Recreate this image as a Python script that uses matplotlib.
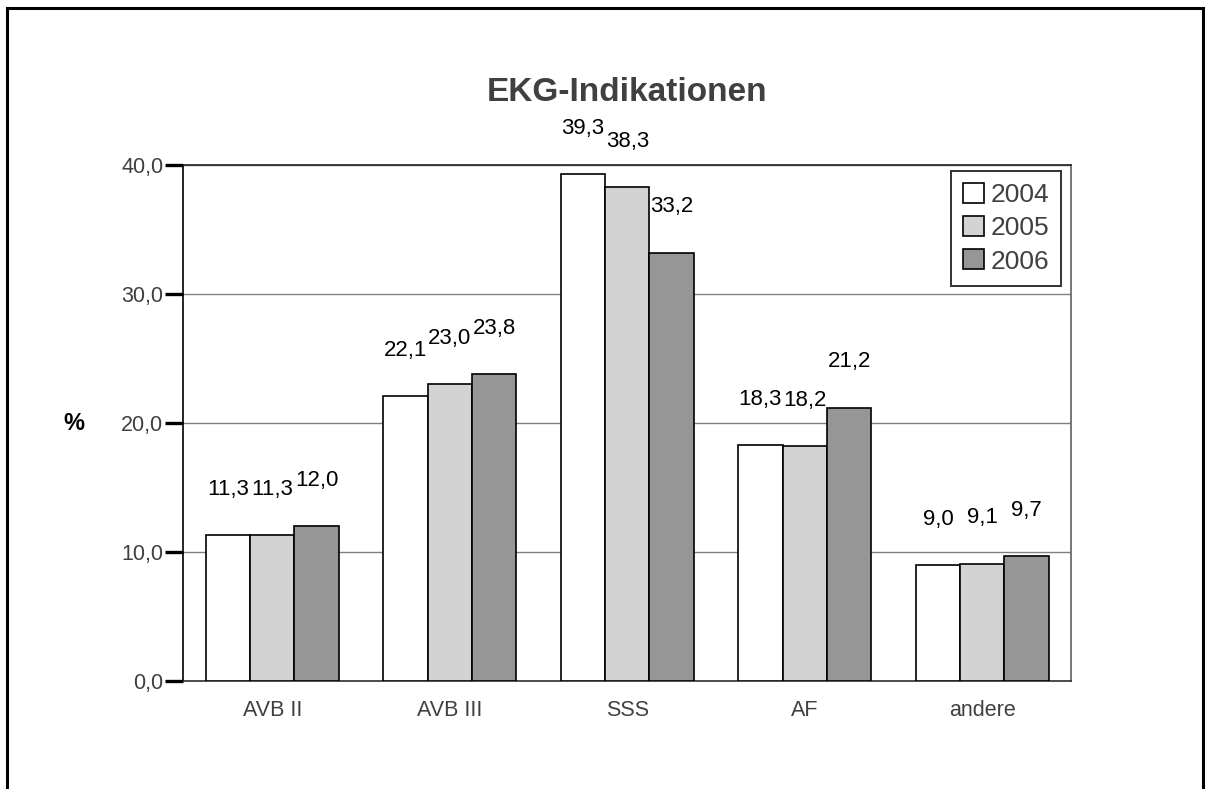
import matplotlib
matplotlib.use("Agg")
import matplotlib.pyplot as plt
import numpy as np
from matplotlib.patches import Rectangle

plt.rcParams["font.family"] = ["Liberation Sans", "DejaVu Sans"]

# data
categories = ["AVB II", "AVB III", "SSS", "AF", "andere"]
years = ["2004", "2005", "2006"]
v2004 = [11.3, 22.1, 39.3, 18.3, 9.0]
v2005 = [11.3, 23.0, 38.3, 18.2, 9.1]
v2006 = [12.0, 23.8, 33.2, 21.2, 9.7]
yticks = [0, 10, 20, 30, 40]

W, H, DPI = 1212, 789, 100
fig = plt.figure(figsize=(W / DPI, H / DPI), dpi=DPI)
fig.patch.set_facecolor("white")

# outer frame (runs past the bottom edge like the original)
fig.add_artist(Rectangle((7 / W, -0.05), (1203 - 7) / W, 1 - 8 / H + 0.05,
                         transform=fig.transFigure, fill=False, edgecolor="black", linewidth=2.2))

ax = fig.add_axes([183.5 / W, 1 - 681 / H, (1071 - 183.5) / W, (681 - 165) / H])

colors = ["white", "#d3d3d3", "#969696"]
series = [v2004, v2005, v2006]
x = np.arange(len(categories))
bw = 0.25
for j, (vals, col, lab) in enumerate(zip(series, colors, years)):
    bars = ax.bar(x + (j - 1) * bw, vals, bw, color=col, edgecolor="black",
                  linewidth=1.2, label=lab, zorder=3)
    for b, v in zip(bars, vals):
        ax.annotate(f"{v:.1f}".replace(".", ","), (b.get_x() + b.get_width() / 2, v),
                    xytext=(0, 33), textcoords="offset points", ha="center", va="center",
                    fontsize=16, color="black", zorder=4)

ax.set_xlim(-0.5, len(categories) - 0.5)
ax.set_ylim(0, 40)
ax.set_yticks(yticks)
ax.set_yticklabels([f"{t:.1f}".replace(".", ",") for t in yticks], fontsize=15.5, color="#404040")
ax.yaxis.grid(True, color="#808080", linewidth=1.0, zorder=0)
ax.set_axisbelow(True)
ax.tick_params(axis="y", direction="out", length=13, width=2.4, color="black", pad=1.5)
ax.set_xticks(x)
ax.set_xticklabels(categories, fontsize=15.5, color="#404040")
ax.tick_params(axis="x", length=0, pad=14)

ax.spines["left"].set_color("black")
ax.spines["top"].set_color("#202020")
ax.spines["right"].set_color("#606060")
ax.spines["bottom"].set_color("#303030")
for s in ax.spines.values():
    s.set_linewidth(1.2)

ax.set_title("EKG-Indikationen", fontsize=24, fontweight="bold", color="#404040", pad=46)
ax.set_ylabel("%", fontsize=17, fontweight="bold", rotation=0, va="center")
ax.yaxis.set_label_coords(-0.124, 0.5)

leg = ax.legend(loc="upper right", bbox_to_anchor=(0.989, 0.989), borderaxespad=0,
                fontsize=19, frameon=True, fancybox=False, handlelength=0.8,
                handleheight=0.8, handletextpad=0.25, labelspacing=0.34, borderpad=0.46)
leg.get_frame().set_edgecolor("black")
leg.get_frame().set_linewidth(1.4)
for t in leg.get_texts():
    t.set_color("#404040")

fig.savefig("out.png", dpi=DPI)
